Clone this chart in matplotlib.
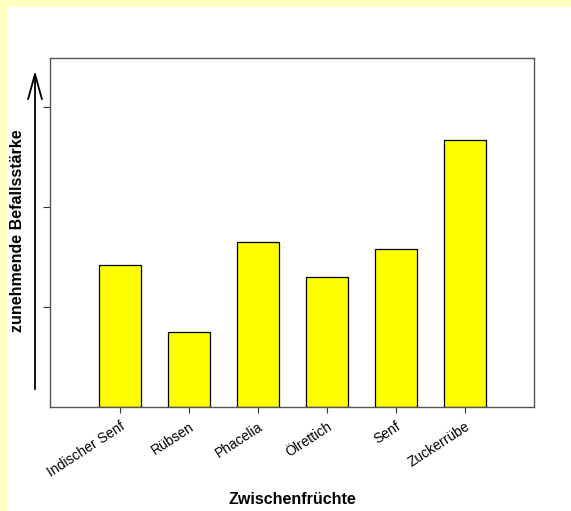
import numpy as np
import matplotlib.pyplot as plt
from matplotlib.patches import Rectangle, FancyArrowPatch

plt.rcParams['font.family'] = ['Liberation Sans', 'DejaVu Sans']

kulturen = ['Indischer Senf', 'Rübsen', 'Phacelia', 'Ölrettich', 'Senf', 'Zuckerrübe']
befall = [1.42, 0.75, 1.65, 1.30, 1.58, 2.67]

fig = plt.figure(figsize=(5.71, 5.11), dpi=100)
fig.patch.set_facecolor('white')
# yellow strip on top and left
fig.patches.append(Rectangle((0, 0), 7 / 571, 1, transform=fig.transFigure,
                             facecolor='#FFFFC0', edgecolor='none', zorder=-1))
fig.patches.append(Rectangle((0, 1 - 7 / 511), 1, 7 / 511, transform=fig.transFigure,
                             facecolor='#FFFFC0', edgecolor='none', zorder=-1))

ax = fig.add_axes([50 / 571, 1 - 407 / 511, 484 / 571, 349 / 511])
x = np.arange(len(kulturen))
ax.bar(x, befall, width=0.61, color='#FFFF00', edgecolor='black', linewidth=0.9)

ax.set_xlim(-1.01, 6.0)
ax.set_ylim(0, 3.49)
ax.set_yticks([1, 2, 3])
ax.set_yticklabels([])
ax.set_xticks(x)
ax.set_xticklabels(kulturen, rotation=33, ha='right', va='top',
                   rotation_mode='anchor', fontsize=10)
ax.tick_params(axis='x', length=4, width=0.8, color='#333333', pad=5)
ax.tick_params(axis='y', length=5, width=0.8, color='#333333')
for s in ax.spines.values():
    s.set_color('#555555')
    s.set_linewidth(1.0)

fig.text(292 / 571, 1 - 500 / 511, 'Zwischenfrüchte', fontsize=11.5,
         fontweight='bold', ha='center', va='center')
fig.text(18 / 571, 1 - 231 / 511, 'zunehmende Befallsstärke', rotation=90,
         fontsize=11.5, fontweight='bold', ha='center', va='center')

arrow = FancyArrowPatch((35 / 571, 1 - 392 / 511), (35 / 571, 1 - 68 / 511),
                        transform=fig.transFigure, arrowstyle='->,head_length=18,head_width=5',
                        color='black', linewidth=1.3)
fig.patches.append(arrow)

fig.savefig('out.png', dpi=100)
